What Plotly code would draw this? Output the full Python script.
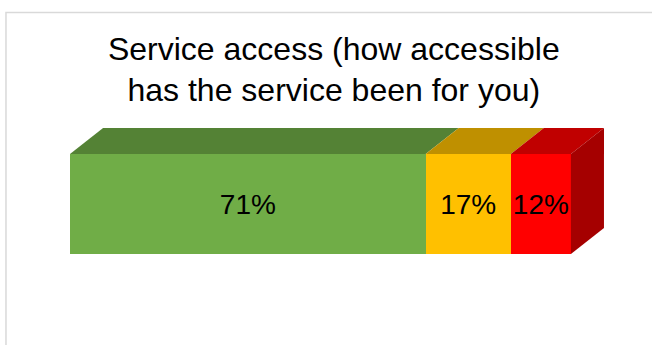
import plotly.graph_objects as go

categories = ["Accessible", "Somewhat", "Not accessible"]
values = [71, 17, 12]
labels = ["71%", "17%", "12%"]
front_colors = ["#70AD47", "#FFC000", "#FF0000"]
top_colors = ["#548235", "#BF9000", "#C00000"]
side_color = "#A50000"
title_text = "Service access (how accessible<br>has the service been for you)"

# depth of the 3D effect in data units
DX = 6.6
DY = 0.26
HALF = 0.5

fig = go.Figure()
for cat, v, lab, c in zip(categories, values, labels, front_colors):
    fig.add_trace(go.Bar(
        y=[0], x=[v], orientation="h", name=cat, width=2 * HALF,
        marker=dict(color=c, line=dict(width=0)),
        text=[lab], textposition="inside", insidetextanchor="middle",
        constraintext="none", textangle=0,
        textfont=dict(family="Liberation Sans, Arial", size=28, color="black"),
        hoverinfo="skip",
    ))

shapes = []
start = 0
for v, tc in zip(values, top_colors):
    x0, x1 = start, start + v
    path = (f"M {x0},{HALF} L {x1},{HALF} L {x1+DX},{HALF+DY} "
            f"L {x0+DX},{HALF+DY} Z")
    shapes.append(dict(type="path", path=path, xref="x", yref="y",
                       fillcolor=tc, line=dict(width=0), layer="above"))
    start = x1
total = start
side = (f"M {total},{-HALF} L {total+DX},{-HALF+DY} L {total+DX},{HALF+DY} "
        f"L {total},{HALF} Z")
shapes.append(dict(type="path", path=side, xref="x", yref="y",
                   fillcolor=side_color, line=dict(width=0), layer="above"))

# chart frame
shapes.append(dict(type="rect", xref="paper", yref="paper",
                   x0=-0.1162, x1=1.08, y0=-0.3, y1=1.4575,
                   line=dict(color="#D9D9D9", width=1.5), fillcolor="rgba(0,0,0,0)",
                   layer="below"))

fig.update_layout(
    width=652, height=345,
    margin=dict(l=70, r=31, t=104, b=41),
    barmode="stack",
    showlegend=False,
    plot_bgcolor="white", paper_bgcolor="white",
    bargap=0,
    xaxis=dict(range=[0, 110], visible=False, fixedrange=True),
    yaxis=dict(range=[-1, 1], visible=False, fixedrange=True),
    shapes=shapes,
    title=dict(text=title_text, x=0.512, xanchor="center",
               y=0.827, yanchor="top", yref="container",
               font=dict(family="Liberation Sans, Arial", size=32, color="black")),
    hovermode=False,
)

fig.write_html("out.html", config={"displayModeBar": False, "staticPlot": True})
